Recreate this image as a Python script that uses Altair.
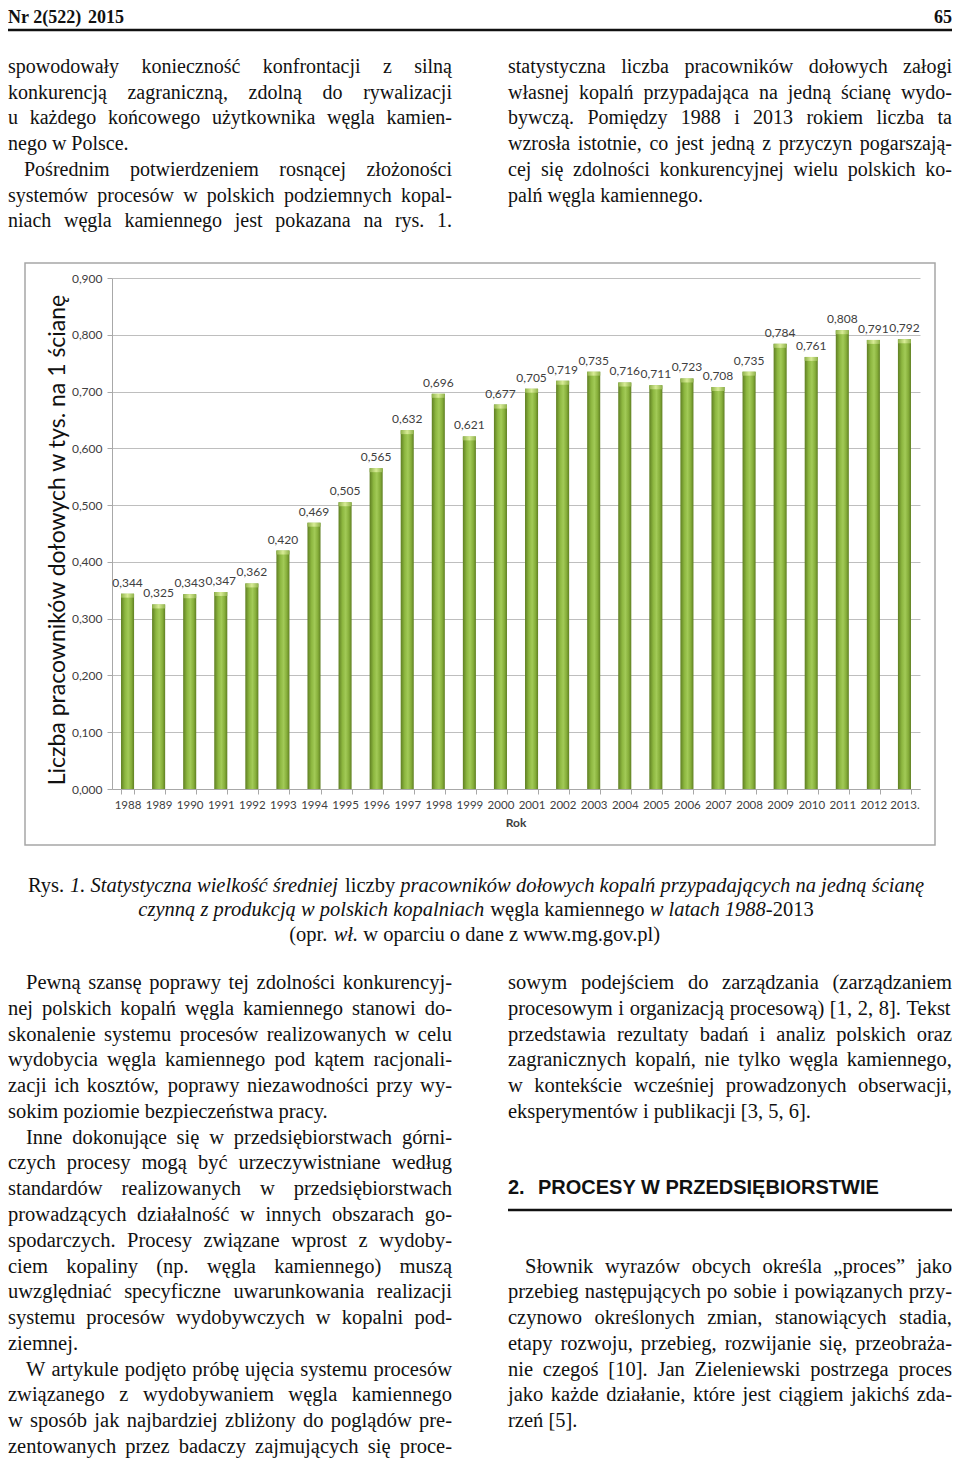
import altair as alt
import pandas as pd

# ---------------- data ----------------
years = ["1988", "1989", "1990", "1991", "1992", "1993", "1994", "1995", "1996",
         "1997", "1998", "1999", "2000", "2001", "2002", "2003", "2004", "2005",
         "2006", "2007", "2008", "2009", "2010", "2011", "2012", "2013."]
values = [0.344, 0.325, 0.343, 0.347, 0.362, 0.420, 0.469, 0.505, 0.565, 0.632,
          0.696, 0.621, 0.677, 0.705, 0.719, 0.735, 0.716, 0.711, 0.723, 0.708,
          0.735, 0.784, 0.761, 0.808, 0.791, 0.792]
y_ticks = [0.0, 0.1, 0.2, 0.3, 0.4, 0.5, 0.6, 0.7, 0.8, 0.9]
y_title = "Liczba pracowników dołowych w tys. na 1 ścianę"
x_title = "Rok"

header_left = "Nr 2(522)"
header_year = "2015"
header_right = "65"

top_left = [
    (["spowodowały konieczność konfrontacji z silną",
      "konkurencją zagraniczną, zdolną do rywalizacji",
      "u każdego końcowego użytkownika węgla kamien-",
      "nego w Polsce."], False, True),
    (["Pośrednim potwierdzeniem rosnącej złożoności",
      "systemów procesów w polskich podziemnych kopal-",
      "niach węgla kamiennego jest pokazana na rys. 1."], True, False),
]
top_right = [
    (["statystyczna liczba pracowników dołowych załogi",
      "własnej kopalń przypadająca na jedną ścianę wydo-",
      "bywczą. Pomiędzy 1988 i 2013 rokiem liczba ta",
      "wzrosła istotnie, co jest jedną z przyczyn pogarszają-",
      "cej się zdolności konkurencyjnej wielu polskich ko-",
      "palń węgla kamiennego."], False, True),
]
bottom_left = [
    (["Pewną szansę poprawy tej zdolności konkurencyj-",
      "nej polskich kopalń węgla kamiennego stanowi do-",
      "skonalenie systemu procesów realizowanych w celu",
      "wydobycia węgla kamiennego pod kątem racjonali-",
      "zacji ich kosztów, poprawy niezawodności przy wy-",
      "sokim poziomie bezpieczeństwa pracy."], True, True),
    (["Inne dokonujące się w przedsiębiorstwach górni-",
      "czych procesy mogą być urzeczywistniane według",
      "standardów realizowanych w przedsiębiorstwach",
      "prowadzących działalność w innych obszarach go-",
      "spodarczych. Procesy związane wprost z wydoby-",
      "ciem kopaliny (np. węgla kamiennego) muszą",
      "uwzględniać specyficzne uwarunkowania realizacji",
      "systemu procesów wydobywczych w kopalni pod-",
      "ziemnej."], True, True),
    (["W artykule podjęto próbę ujęcia systemu procesów",
      "związanego z wydobywaniem węgla kamiennego",
      "w sposób jak najbardziej zbliżony do poglądów pre-",
      "zentowanych przez badaczy zajmujących się proce-"], True, False),
]
bottom_right_a = [
    (["sowym podejściem do zarządzania (zarządzaniem",
      "procesowym i organizacją procesową) [1, 2, 8]. Tekst",
      "przedstawia rezultaty badań i analiz polskich oraz",
      "zagranicznych kopalń, nie tylko węgla kamiennego,",
      "w kontekście wcześniej prowadzonych obserwacji,",
      "eksperymentów i publikacji [3, 5, 6]."], False, True),
]
heading_num = "2."
heading_text = "PROCESY W PRZEDSIĘBIORSTWIE"
bottom_right_b = [
    (["Słownik wyrazów obcych określa „proces” jako",
      "przebieg następujących po sobie i powiązanych przy-",
      "czynowo określonych zmian, stanowiących stadia,",
      "etapy rozwoju, przebieg, rozwijanie się, przeobraża-",
      "nie czegoś [10]. Jan Zieleniewski postrzega proces",
      "jako każde działanie, które jest ciągiem jakichś zda-",
      "rzeń [5]."], True, True),
]
caption_lines = [
    [("Rys. ", "n"), ("1. Statystyczna wielkość średniej ", "i"), ("liczby ", "n"),
     ("pracowników dołowych kopalń przypadających na jedną ścianę", "i")],
    [("czynną z produkcją w polskich kopalniach ", "i"), ("węgla kamiennego ", "n"),
     ("w latach 1988", "i"), ("-2013", "n")],
    [("(opr. ", "n"), ("wł.", "i"), (" w oparciu o dane z www.mg.gov.pl)", "n")],
]

# ---------------- text metrics (Times-compatible advance widths) ----------------
REG = {' ': 250, '!': 333, '"': 408, '(': 333, ')': 333, ',': 250, '-': 333, '.': 250,
       '/': 278, ':': 278, ';': 278, '[': 333, ']': 333, '„': 444, '”': 444}
for d in "0123456789":
    REG[d] = 500
for ch, w in zip("ABCDEFGHIJKLMNOPQRSTUVWXYZ",
                 [722, 667, 667, 722, 611, 556, 722, 722, 333, 389, 722, 611, 889, 722,
                  722, 556, 722, 667, 556, 611, 722, 722, 944, 722, 722, 611]):
    REG[ch] = w
for ch, w in zip("abcdefghijklmnopqrstuvwxyz",
                 [444, 500, 444, 500, 444, 333, 500, 500, 278, 278, 500, 278, 778, 500,
                  500, 500, 500, 333, 389, 278, 500, 500, 722, 500, 500, 444]):
    REG[ch] = w
ITA = dict(REG)
for ch, w in zip("abcdefghijklmnopqrstuvwxyz",
                 [500, 500, 444, 500, 444, 278, 500, 500, 278, 278, 444, 278, 722, 500,
                  500, 500, 500, 389, 389, 278, 500, 444, 667, 444, 444, 389]):
    ITA[ch] = w
BASE = {'ą': 'a', 'ć': 'c', 'ę': 'e', 'ł': 'l', 'ń': 'n', 'ó': 'o', 'ś': 's', 'ź': 'z',
        'ż': 'z', 'Ą': 'A', 'Ć': 'C', 'Ę': 'E', 'Ł': 'L', 'Ń': 'N', 'Ó': 'O', 'Ś': 'S',
        'Ź': 'Z', 'Ż': 'Z'}


def tw(s, size, table=REG):
    return sum(table.get(BASE.get(c, c), 500) for c in s) * size / 1000.0


X0, Y0 = 112, 278  # page position of the plot origin


def layout(paras, x0, x1, ys, size, indent):
    rows = []
    k = 0
    for lines, ind, ends in paras:
        for i, line in enumerate(lines):
            y = ys[k]
            xs = x0 + (indent if (ind and i == 0) else 0)
            words = line.split(" ")
            if (ends and i == len(lines) - 1) or len(words) == 1:
                rows.append({"x": xs - X0, "y": y - Y0, "t": line})
            else:
                ws = [tw(w, size) for w in words]
                gap = max((x1 - xs - sum(ws)) / (len(words) - 1), size * 0.12)
                cx = xs
                for w, wd in zip(words, ws):
                    rows.append({"x": cx - X0, "y": y - Y0, "t": w})
                    cx += wd + gap
            k += 1
    return rows


top_ys = [67 + 25.7 * k for k in range(7)]
bot_ys = [983 + 25.78 * k for k in range(19)]

body_top = layout(top_left, 8, 452, top_ys, 20, 16) + layout(top_right, 508, 952, top_ys, 20, 16)
body_bot = (layout(bottom_left, 8, 452, bot_ys, 20.5, 18)
            + layout(bottom_right_a, 508, 952, bot_ys[:6], 20.5, 17)
            + layout(bottom_right_b, 508, 952, bot_ys[11:], 20.5, 17))

cap_size = 20.5
cap_n, cap_i = [], []
for line, yy in zip(caption_lines, [886, 910, 935]):
    total = sum(tw(s, cap_size, ITA if st == "i" else REG) for s, st in line)
    cx = 476 - total / 2
    for s, st in line:
        tab = ITA if st == "i" else REG
        lead = len(s) - len(s.lstrip(" "))
        row = {"x": cx + tw(" " * lead, cap_size) - X0, "y": yy - Y0, "t": s.strip()}
        (cap_i if st == "i" else cap_n).append(row)
        cx += tw(s, cap_size, tab)

HEAD_Y = 18
head_rows = [{"x": 8 - X0, "y": HEAD_Y - Y0, "t": header_left},
             {"x": 88 - X0, "y": HEAD_Y - Y0, "t": header_year}]
head_right_rows = [{"x": 952 - X0, "y": HEAD_Y - Y0, "t": header_right}]
sect_rows = [{"x": 508 - X0, "y": 1188 - Y0, "t": heading_num},
             {"x": 538 - X0, "y": 1188 - Y0, "t": heading_text}]


def text_layer(rows, **mk):
    d = pd.DataFrame(rows)
    params = dict(align="left", baseline="middle", color="#111111")
    params.update(mk)
    return alt.Chart(d).mark_text(**params).encode(
        x=alt.X("x:Q", scale=None, axis=None),
        y=alt.Y("y:Q", scale=None, axis=None),
        text="t:N",
    )


# ---------------- bar chart ----------------
df = pd.DataFrame({"year": years, "value": values})
df["label"] = [f"{v:.3f}".replace(".", ",") for v in values]

bar_grad = alt.Gradient(
    gradient="linear", x1=0, x2=1, y1=0, y2=0,
    stops=[alt.GradientStop(color="#5F7F22", offset=0),
           alt.GradientStop(color="#8DB740", offset=0.3),
           alt.GradientStop(color="#A2CA57", offset=0.55),
           alt.GradientStop(color="#86AE3A", offset=0.8),
           alt.GradientStop(color="#5F7F22", offset=1)])
cap_grad = alt.Gradient(
    gradient="linear", x1=0, x2=1, y1=0, y2=0,
    stops=[alt.GradientStop(color="#8FB24A", offset=0),
           alt.GradientStop(color="#D8EC96", offset=0.5),
           alt.GradientStop(color="#8FB24A", offset=1)])

x_enc = alt.X("year:N", sort=years,
              scale=alt.Scale(paddingInner=0.58, paddingOuter=0.29),
              axis=alt.Axis(title=None, labelAngle=0, tickBand="extent", tickSize=5,
                            tickColor="#A8A8A8", domainColor="#A8A8A8", labelPadding=5,
                            labelFont="Lato", labelFontSize=11.5, labelColor="#404040",
                            grid=False))
y_enc = alt.Y("value:Q", scale=alt.Scale(domain=[0, 0.9]),
              axis=alt.Axis(title=None, values=y_ticks,
                            labelExpr="replace(format(datum.value, '.3f'), '.', ',')",
                            grid=True, gridColor="#BEBEBE", gridWidth=1,
                            domainColor="#A8A8A8", tickColor="#A8A8A8", tickSize=5,
                            labelPadding=5, labelFont="Lato", labelFontSize=12,
                            labelColor="#404040"))

base = alt.Chart(df)
bars = base.mark_bar(color=bar_grad).encode(x=x_enc, y=y_enc)
caps = base.transform_calculate(top2="datum.value - 0.007").mark_bar(color=cap_grad).encode(
    x=alt.X("year:N", sort=years), y="value:Q", y2="top2:Q")
labels = base.mark_text(baseline="alphabetic", dy=-7, font="Lato", fontSize=12,
                        color="#404040").encode(
    x=alt.X("year:N", sort=years), y="value:Q", text="label:N")
chart_layer = alt.layer(bars, caps, labels)

dummy = pd.DataFrame({"t": [y_title]})
frame = alt.Chart(pd.DataFrame({"a": [0]})).mark_rect(
    fillOpacity=0, stroke="#A6A6A6", strokeWidth=1.5).encode(
    x=alt.value(25 - X0), x2=alt.value(935 - X0), y=alt.value(263 - Y0), y2=alt.value(845 - Y0))
ytitle = alt.Chart(dummy).mark_text(angle=270, font="Lato", fontSize=23, color="#111111",
                                    align="center", baseline="middle").encode(
    x=alt.value(58 - X0), y=alt.value(540 - Y0), text="t:N")
xtitle = alt.Chart(pd.DataFrame({"t": [x_title]})).mark_text(
    font="Lato", fontSize=12, fontWeight="bold", color="#404040",
    align="center", baseline="middle").encode(
    x=alt.value(516 - X0), y=alt.value(823 - Y0), text="t:N")

rule_top = alt.Chart(pd.DataFrame({"a": [0]})).mark_rule(color="#111111", strokeWidth=2.5).encode(
    x=alt.value(8 - X0), x2=alt.value(952 - X0), y=alt.value(30 - Y0))
rule_sect = alt.Chart(pd.DataFrame({"a": [0]})).mark_rule(color="#111111", strokeWidth=2.5).encode(
    x=alt.value(508 - X0), x2=alt.value(952 - X0), y=alt.value(1210 - Y0))

layers = [
    frame,
    chart_layer,
    ytitle,
    xtitle,
    rule_top,
    rule_sect,
    text_layer(head_rows, font="Liberation Serif", fontSize=18, fontWeight="bold"),
    text_layer(head_right_rows, font="Liberation Serif", fontSize=18, fontWeight="bold",
               align="right"),
    text_layer(body_top, font="Liberation Serif", fontSize=20),
    text_layer(body_bot, font="Liberation Serif", fontSize=20.5),
    text_layer(cap_n, font="Liberation Serif", fontSize=cap_size),
    text_layer(cap_i, font="Liberation Serif", fontSize=cap_size, fontStyle="italic"),
    text_layer(sect_rows, font="Liberation Sans", fontSize=20, fontWeight="bold"),
]

chart = alt.layer(*layers).resolve_scale(x="independent", y="independent").properties(
    width=808, height=511,
    padding={"left": 104, "top": 270, "right": 32, "bottom": 670},
    autosize=alt.AutoSizeParams(type="none"),
    background="white",
).configure_view(stroke=None)

chart.save("out.html", embed_options={"renderer": "svg", "actions": False})
